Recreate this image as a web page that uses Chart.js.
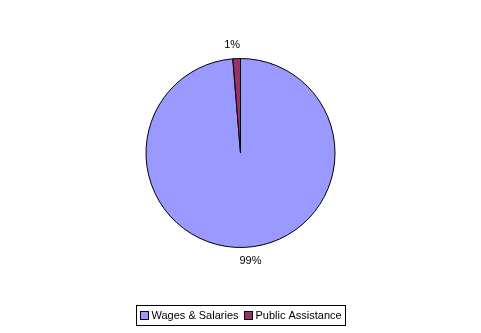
<!DOCTYPE html>
<html>
<head>
<meta charset="utf-8">
<script src="https://cdn.jsdelivr.net/npm/chart.js@4"></script>
<style>
  html, body { margin: 0; padding: 0; background: #fff; }
  #wrap { width: 481px; height: 333px; }
</style>
</head>
<body>
<div id="wrap"><canvas id="pieChart" width="481" height="333"></canvas></div>
<script>
  const categories = ['Wages & Salaries', 'Public Assistance'];
  const shares = [98.7, 1.3];
  const pctLabels = ['99%', '1%'];
  const colors = ['#9999FF', '#993366'];

  // outside percent labels
  const pctPlugin = {
    id: 'pctLabels',
    afterDatasetsDraw(chart) {
      const ctx = chart.ctx;
      const meta = chart.getDatasetMeta(0);
      ctx.save();
      ctx.font = '11px "Liberation Sans", Arial, sans-serif';
      ctx.fillStyle = '#000';
      ctx.textAlign = 'center';
      ctx.textBaseline = 'middle';
      meta.data.forEach(function (arc, i) {
        const mid = (arc.startAngle + arc.endAngle) / 2;
        const r = arc.outerRadius + 14;
        const w = ctx.measureText(pctLabels[i]).width;
        let x = arc.x + Math.cos(mid) * r;
        const y = arc.y + Math.sin(mid) * r;
        x += (Math.cos(mid) >= 0 ? 1 : -1) * w / 4;
        ctx.fillText(pctLabels[i], x, y);
      });
      ctx.restore();
    }
  };

  // boxed legend under the pie
  const legendPlugin = {
    id: 'boxLegend',
    afterDraw(chart) {
      const ctx = chart.ctx;
      const ds = chart.data.datasets[0];
      ctx.save();
      ctx.font = '11px "Liberation Sans", Arial, sans-serif';
      const sq = 8, gap = 3, itemGap = 6, pad = 4;
      let total = pad * 2;
      chart.data.labels.forEach(function (lab, i) {
        total += sq + gap + ctx.measureText(lab).width;
        if (i > 0) total += itemGap;
      });
      const left = Math.round(chart.width / 2 - total / 2) + 0.5;
      const top = 305.5, h = 20;
      ctx.strokeStyle = '#000';
      ctx.lineWidth = 1;
      ctx.strokeRect(left, top, Math.round(total), h);
      let x = left + pad;
      ctx.textBaseline = 'middle';
      chart.data.labels.forEach(function (lab, i) {
        ctx.fillStyle = ds.backgroundColor[i];
        ctx.fillRect(x, top + 6, sq, sq);
        ctx.strokeRect(x, top + 6, sq, sq);
        x += sq + gap;
        ctx.fillStyle = '#000';
        ctx.fillText(lab, x, top + h / 2 + 0.5);
        x += ctx.measureText(lab).width + itemGap;
      });
      ctx.restore();
    }
  };

  const pieCtx = document.getElementById('pieChart').getContext('2d');
  const pieChart = new Chart(pieCtx, {
    type: 'pie',
    data: {
      labels: categories,
      datasets: [{
        data: shares,
        backgroundColor: colors,
        borderColor: '#000',
        borderWidth: 1
      }]
    },
    options: {
      responsive: false,
      animation: false,
      layout: { padding: { top: 58, bottom: 85, left: 0, right: 0 } },
      plugins: {
        legend: { display: false },
        tooltip: { enabled: false }
      }
    },
    plugins: [pctPlugin, legendPlugin]
  });
</script>
</body>
</html>
